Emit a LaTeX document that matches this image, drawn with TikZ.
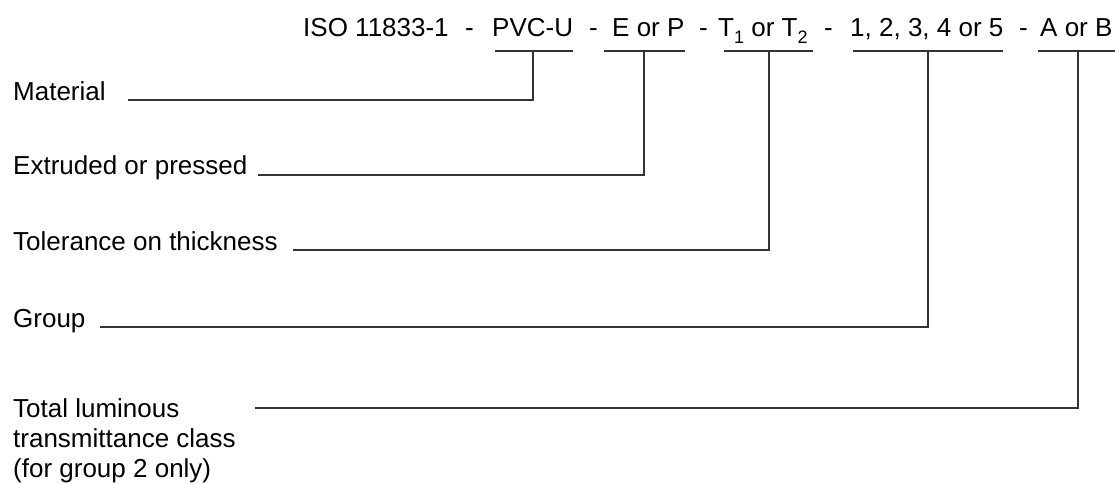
\documentclass[tikz,border=0pt]{standalone}
\usepackage{fontspec}
\setmainfont{Liberation Sans}
\begin{document}
\begin{tikzpicture}[x=1pt,y=-1pt,
  lbl/.style={anchor=base west,inner sep=0pt,font=\fontsize{26}{30}\selectfont},
  hdr/.style={anchor=base west,inner sep=0pt,font=\fontsize{26}{30}\selectfont},
  ln/.style={line width=1.3pt,draw=black!80}]
\useasboundingbox (0,0) rectangle (1115,483);
\newcommand{\sbs}[1]{\raisebox{-0.3em}{\fontsize{18}{18}\selectfont #1}}
% header
\node[hdr] (iso) at (303,36) {ISO 11833-1};
\node[hdr] (d1) at (465,36) {-};
\node[hdr] (pvc) at (492,36) {PVC-U};
\node[hdr] (d2) at (589,36) {-};
\node[hdr] (eop) at (612,36) {E or P};
\node[hdr] (d3) at (699,36) {-};
\node[hdr] (tt) at (718,36) {T\sbs{1} or T\sbs{2}};
\node[hdr] (d4) at (824,36) {-};
\node[hdr] (grp) at (850,36) {1, 2, 3, 4 or 5};
\node[hdr] (d5) at (1019,36) {-};
\node[hdr] (aob) at (1040,36) {A or B};
% underlines
\coordinate (u1a) at (495,51);  \coordinate (u1b) at (573,51);  \coordinate (u1) at (533,51);
\coordinate (u2a) at (604,51);  \coordinate (u2b) at (685,51);  \coordinate (u2) at (644,51);
\coordinate (u3a) at (724,51);  \coordinate (u3b) at (813,51);  \coordinate (u3) at (769,51);
\coordinate (u4a) at (853,51);  \coordinate (u4b) at (1003,51); \coordinate (u4) at (928,51);
\coordinate (u5a) at (1038,51); \coordinate (u5b) at (1118,51); \coordinate (u5) at (1078,51);
\draw[ln] (u1a) -- (u1b);
\draw[ln] (u2a) -- (u2b);
\draw[ln] (u3a) -- (u3b);
\draw[ln] (u4a) -- (u4b);
\draw[ln] (u5a) -- (u5b);
% labels
\node[lbl] (mat) at (13,100) {Material};
\node[lbl] (ext) at (13,174) {Extruded or pressed};
\node[lbl] (tol) at (13,250) {Tolerance on thickness};
\node[lbl] (gro) at (13,327) {Group};
\node[lbl,align=left,anchor=north west] (tot) at (13,398) {Total luminous\\transmittance class\\(for group 2 only)};
% connector start points
\coordinate (c1) at (128,100);
\coordinate (c2) at (258,175);
\coordinate (c3) at (293,250);
\coordinate (c4) at (100,327);
\coordinate (c5) at (255,408);
\draw[ln] (c1) -| (u1);
\draw[ln] (c2) -| (u2);
\draw[ln] (c3) -| (u3);
\draw[ln] (c4) -| (u4);
\draw[ln] (c5) -| (u5);
\end{tikzpicture}
\end{document}
